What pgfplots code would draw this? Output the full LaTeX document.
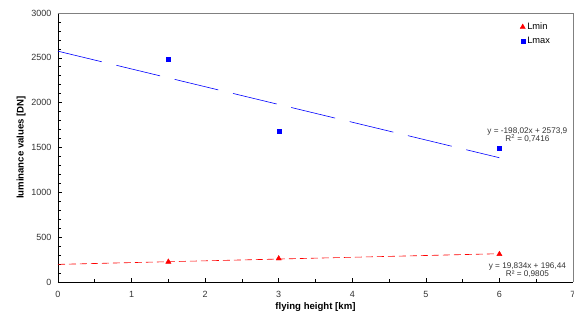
\documentclass[border=0pt]{standalone}
\usepackage{fontspec}
\setmainfont{Liberation Sans}
\usepackage{pgfplots}
\pgfplotsset{compat=1.18}
\begin{document}
\begin{tikzpicture}
\path[use as bounding box] (-58pt,-41pt) rectangle (516pt,282pt);
\begin{axis}[
  at={(0pt,0pt)}, anchor=south west,
  scale only axis, width=515pt, height=269pt,
  xmin=0, xmax=7, ymin=0, ymax=3000,
  xtick={0,1,...,7}, ytick={0,500,...,3000},
  minor x tick num=1, minor y tick num=4,
  tick align=inside,
  major tick length=4pt, minor tick length=3pt,
  axis x line*=bottom, axis y line*=left,
  axis line style={black, line width=0.8pt, -},
  tick style={black, line width=0.6pt},
  /pgf/number format/assume math mode=true,
  /pgf/number format/1000 sep={},
  ticklabel style={font=\fontsize{9}{10}\selectfont, color=black!80},
  xticklabel style={yshift=-6pt},
  yticklabel style={xshift=-3pt},
  xlabel={\textbf{flying height [km]}},
  ylabel={\textbf{luminance values [DN]}},
  label style={font=\fontsize{9.6}{11}\selectfont},
  xlabel style={yshift=2pt},
  ylabel style={yshift=-1pt},
  legend style={draw=none, fill=none, at={(0.895,0.975)}, anchor=north west,
    font=\fontsize{9.3}{10}\selectfont, row sep=2pt, inner sep=1pt},
  legend cell align=left,
  legend image code/.code={\draw[#1] plot coordinates {(0.15cm,0cm)};},
  clip=false,
]
% gray top/right frame
\draw[gray, line width=0.8pt] (rel axis cs:0,1) -- (rel axis cs:1,1) -- (rel axis cs:1,0);
% trend lines
\addplot[forget plot, blue, line width=0.6pt, dash pattern=on 45pt off 15pt] coordinates {(0,2573.9) (6,1385.78)};
\addplot[forget plot, red, line width=0.6pt, dash pattern=on 7pt off 4pt] coordinates {(0,196.44) (6,315.44)};
% data
\addplot[only marks, red, mark=triangle*, mark size=3pt] coordinates {(1.5,225) (3,262) (6,310)};
\addlegendentry{Lmin}
\addplot[only marks, blue, mark=square*, mark size=2pt] coordinates {(1.5,2490) (3,1680) (6,1490)};
\addlegendentry{Lmax}
% equations
\node[font=\fontsize{8.2}{9}\selectfont, color=black!80, align=center] at (axis cs:6.38,1635)
  {y = -198,02x + 2573,9\\[-1pt] R\textsuperscript{2} = 0,7416};
\node[font=\fontsize{8.2}{9}\selectfont, color=black!80, align=center] at (axis cs:6.38,135)
  {y = 19,834x + 196,44\\[-1pt] R² = 0,9805};
\end{axis}
\end{tikzpicture}
\end{document}
